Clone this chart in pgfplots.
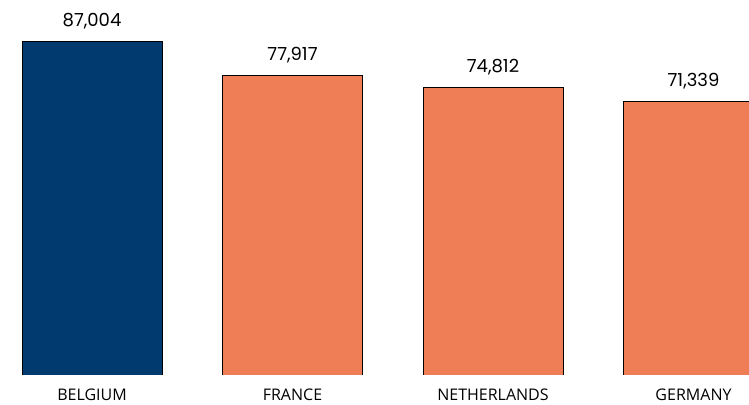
\documentclass[border=0pt]{standalone}
\usepackage{fontspec}
\setmainfont{Poppins}
\newfontfamily\catfont{Open Sans}
\usepackage{pgfplots}
\pgfplotsset{compat=1.18}
\definecolor{navy}{HTML}{003A6E}
\definecolor{coral}{HTML}{EF7E56}
\begin{document}
\begin{tikzpicture}[x=1pt,y=1pt]
\begin{axis}[
  at={(0,0)}, anchor=south west,
  scale only axis, width=749pt, height=375pt,
  xmin=-0.4589, xmax=3.2768, ymin=0, ymax=97685,
  axis line style={draw=none},
  major tick length=0pt,
  ytick=\empty,
  xtick={0,1,2,3},
  xticklabels={BELGIUM,FRANCE,NETHERLANDS,GERMANY},
  xticklabel style={font=\catfont\fontsize{16}{16}\selectfont, anchor=base, yshift=-25pt},
  ybar, bar width=140pt, bar shift=0pt,
  every axis plot/.append style={draw=black, line width=0.8pt},
  nodes near coords,
  nodes near coords style={font=\fontsize{18}{18}\selectfont, anchor=base, yshift=15pt,
    /pgf/number format/.cd, fixed, precision=0, 1000 sep={,}, assume math mode=true},
]
\addplot[fill=navy] coordinates {(0,87004)};
\addplot[fill=coral] coordinates {(1,77917) (2,74812) (3,71339)};
\end{axis}
\pgfresetboundingbox
\path (0,-29) rectangle (749,375);
\end{tikzpicture}
\end{document}
